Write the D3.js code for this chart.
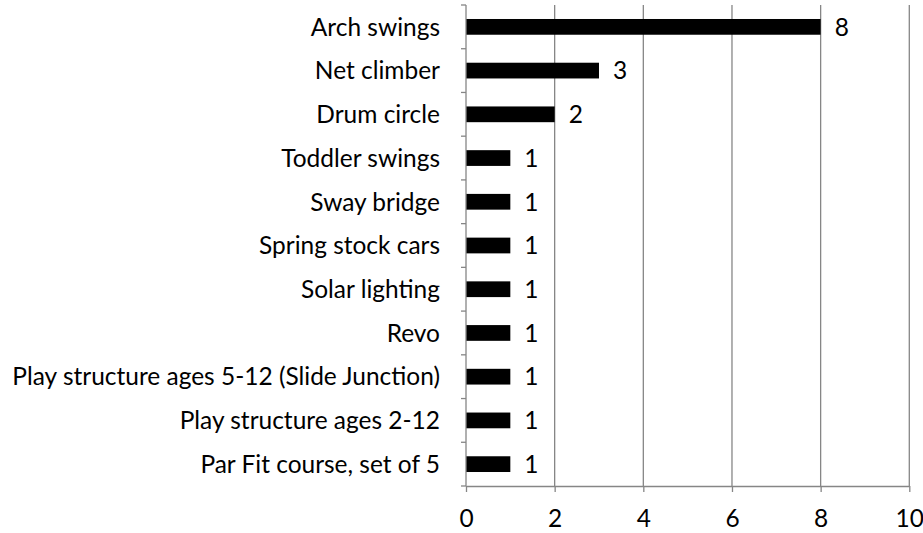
<!DOCTYPE html>
<html><head><meta charset="utf-8">
<script src="https://cdn.jsdelivr.net/npm/d3@7"></script>
<style>body{margin:0;background:#fff}text{font-family:Lato,sans-serif;}</style>
</head><body><svg id="c" width="923" height="533"></svg>
<script>
const categories = ["Arch swings","Net climber","Drum circle","Toddler swings","Sway bridge","Spring stock cars","Solar lighting","Revo","Play structure ages 5-12 (Slide Junction)","Play structure ages 2-12","Par Fit course, set of 5"];
const values = [8,3,2,1,1,1,1,1,1,1,1];
const xTicks = [0,2,4,6,8,10];

const svg = d3.select("#c");
const x = d3.scaleLinear().domain([0,10]).range([466,909.3]);
const y = d3.scaleBand().domain(categories).range([5,486]).paddingInner(0.64).paddingOuter(0.32);
const grid = "#868686";

// fit font so that the longest category label spans ~428px as in the reference
const probe = svg.append("text").style("font-size","20px").text(categories[8]);
const fs = 20 * 428 / probe.node().getComputedTextLength();
probe.remove();

svg.append("g").selectAll("line").data(xTicks.slice(1)).join("line")
  .attr("x1",d=>x(d)).attr("x2",d=>x(d)).attr("y1",5).attr("y2",486)
  .attr("stroke",grid).attr("stroke-width",1.3);

svg.append("g").selectAll("rect").data(values).join("rect")
  .attr("x",x(0)).attr("y",(d,i)=>y(categories[i])).attr("width",d=>x(d)-x(0)).attr("height",y.bandwidth())
  .attr("fill","#000");

svg.append("g").selectAll("text").data(values).join("text")
  .attr("x",d=>x(d)+14).attr("y",(d,i)=>y(categories[i])+y.bandwidth()/2).attr("dy","0.36em")
  .style("font-size",fs+"px").attr("fill","#000").text(d=>d);

const xa = svg.append("g").attr("transform","translate(0,486)")
  .call(d3.axisBottom(x).tickValues(xTicks).tickSize(6).tickSizeOuter(0).tickPadding(18));
xa.attr("font-family",null).attr("font-size",null);
xa.select(".domain").attr("stroke",grid).attr("stroke-width",1.3);
xa.selectAll(".tick line").attr("stroke",grid).attr("stroke-width",1.3);
xa.selectAll("text").style("font-size",fs+"px").attr("fill","#000");

const yb = d3.scaleBand().domain(categories).range([5,486]);
const ya = svg.append("g").attr("transform","translate(466,0)");
ya.append("line").attr("x1",0).attr("x2",0).attr("y1",5).attr("y2",486).attr("stroke",grid).attr("stroke-width",1.3);
const edges = categories.map(c=>yb(c)).concat([486]);
ya.selectAll("line.t").data(edges).join("line").attr("class","t")
  .attr("x1",-5).attr("x2",0).attr("y1",d=>d).attr("y2",d=>d).attr("stroke",grid).attr("stroke-width",1.3);
ya.selectAll("text").data(categories).join("text")
  .attr("x",-26).attr("y",d=>yb(d)+yb.bandwidth()/2).attr("dy","0.36em").attr("text-anchor","end")
  .style("font-size",fs+"px").attr("fill","#000").text(d=>d);
</script></body></html>
